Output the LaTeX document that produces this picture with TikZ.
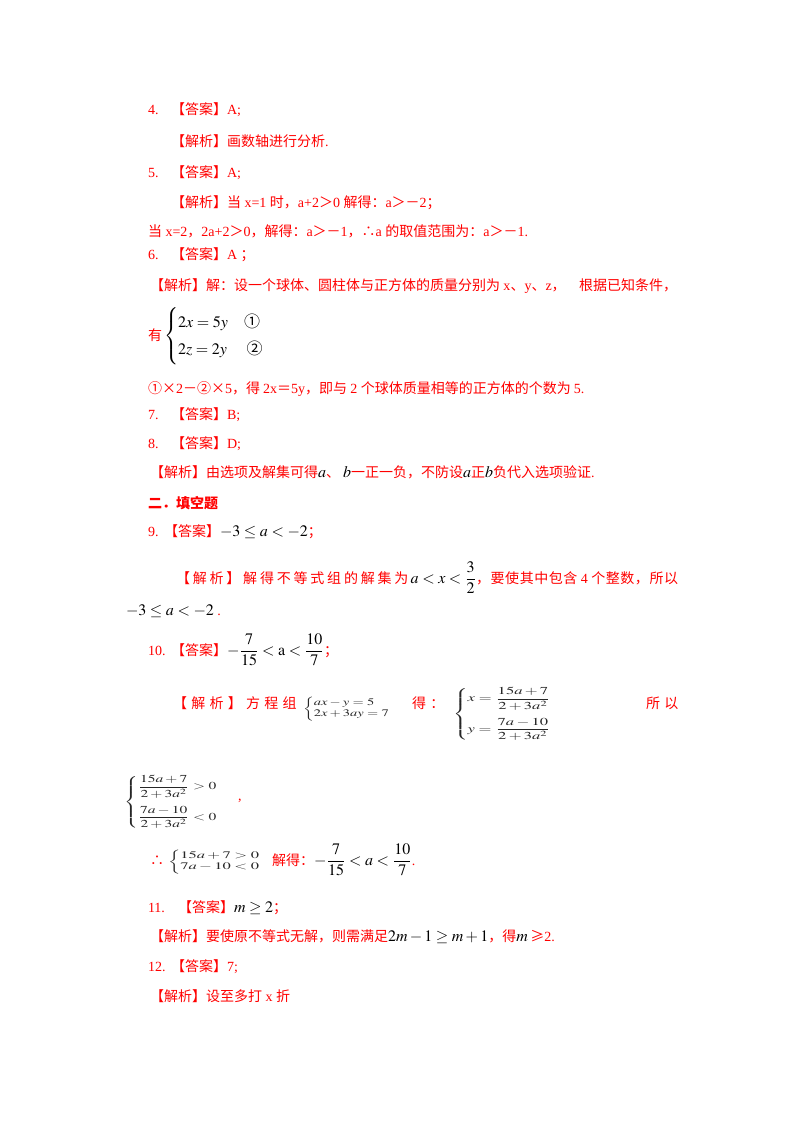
\documentclass[tikz,border=0pt]{standalone}
\usepackage{amsmath}
\usepackage{mathptmx}
\usepackage[no-math]{fontspec}
\usepackage{graphicx}
\setmainfont{Liberation Serif}
\newfontfamily\zh{Noto Sans CJK SC}
\newfontfamily\en{Liberation Serif}
\newcommand\fs{\fontsize{10.5}{12}\selectfont}
\newcommand\ms{\fontsize{12}{14}\selectfont}
\newcommand\M[1]{{\color{black}\ms$#1$}}
\newcommand\cir[1]{\mbox{\zh\fontsize{12}{14}\selectfont #1}}
\makeatletter
\newcommand\spaced[2]{{\def\sp@g{\hspace{#1}}\@tfor\sp@c:=#2\do{\sp@c\sp@g}\unskip}}
\makeatother
\begin{document}
\begin{tikzpicture}[x=0.75pt,y=-0.75pt,
  tx/.style={anchor=base west,inner sep=0pt,outer sep=0pt,text=red,font=\fs\zh},
  mt/.style={anchor=base west,inner sep=0pt,outer sep=0pt,text=black,font=\ms},
  sm/.style={anchor=west,inner sep=0pt,outer sep=0pt,text=black!85,font=\fontsize{7.5}{8.5}\selectfont},
  smb/.style={sm,font=\fontsize{8}{10}\selectfont}]
\useasboundingbox[fill=white] (0,0) rectangle (800,1132);
% 4
\node[tx] (n4) at (148,114) {\en 4.};
\node[tx] (a4) at (171,114) {【答案】{\en A;}};
\node[tx] (j4) at (171,146) {【解析】画数轴进行分析{\en .}};
% 5
\node[tx] (n5) at (148,177) {\en 5.};
\node[tx] (a5) at (171,177) {【答案】{\en A;}};
\node[tx] (j5) at (171,207) {【解析】当{\en\ x=1\ }时，{\en a+2}＞{\en 0\ }解得：{\en a}＞－{\en 2}；};
\node[tx] (j5b) at (148,236) {当{\en\ x=2}，{\en 2a+2}＞{\en 0}，解得：{\en a}＞－{\en 1}，∴{\en a\ }的取值范围为：{\en a}＞－{\en 1.}};
% 6
\node[tx] (n6) at (148,259) {\en 6.};
\node[tx] (a6) at (171,259) {【答案】{\en A\ }；};
\node[tx] (j6) at (150,290) {【解析】解：设一个球体、圆柱体与正方体的质量分别为{\en\ x}、{\en y}、{\en z}，\hspace{10pt}根据已知条件，};
\node[tx] (you) at (148,340) {有};
\node[mt,anchor=west] (sys6) at (164,336) {\renewcommand{\arraystretch}{1.43}$\left\{\begin{array}{@{}l@{}}2x=5y\quad\cir{①}\\ 2z=2y\quad\;\cir{②}\end{array}\right.$};
\node[tx] (j6b) at (148,393) {①×{\en 2}－②×{\en 5}，得\ {\en 2x}＝{\en 5y}，即与\ {\en 2\ }个球体质量相等的正方体的个数为\ {\en 5.}};
% 7, 8
\node[tx] (n7) at (148,419) {\en 7.};
\node[tx] (a7) at (171,419) {【答案】{\en B;}};
\node[tx] (n8) at (148,448) {\en 8.};
\node[tx] (a8) at (171,448) {【答案】{\en D;}};
\node[tx] (j8) at (150,477) {【解析】由选项及解集可得\M{a}、\ \M{b}一正一负，不防设\M{a}正\M{b}负代入选项验证{\en .}};
% heading
\node[tx,font=\fs\zh\bfseries] (h2) at (148,508) {二．填空题};
% 9
\node[tx] (n9) at (148,536) {\en 9.};
\node[tx] (a9) at (164,536) {【答案】\M{-3\le a<-2}；};
\node[tx] (j9) at (176,583) {\spaced{2.1pt}{【解析】解得不等式组的解集为}\,\M{a<x<\dfrac{3}{2}}\spaced{0.4pt}{，要使其中包含}{\en\ 4\ }\spaced{0.4pt}{个整数，所以}};
\node[tx] (j9b) at (126,615) {\M{-3\le a<-2}{\en\ .}};
% 10
\node[tx] (n10) at (148,655) {\en 10.};
\node[tx] (a10) at (171,655) {【答案】\M{-\dfrac{7}{15}<\mathrm{a}<\dfrac{10}{7}}；};
\node[tx] (j10) at (173,708) {\spaced{3.2pt}{【解析】方程组}};
\node[sm] (s1) at (303,709) {\scalebox{1.45}[1]{$\left\{\begin{array}{@{}l@{}}ax-y=5\\2x+3ay=7\end{array}\right.$}};
\node[tx] (de) at (412,708) {\spaced{3.2pt}{得：}};
\node[smb] (s2) at (453,714) {\scalebox{1.55}[1]{$\left\{\begin{array}{@{}l@{}}x=\dfrac{15a+7}{2+3a^2}\\[9pt] y=\dfrac{7a-10}{2+3a^2}\end{array}\right.$}};
\node[tx] (suoyi) at (646,708) {\spaced{3.2pt}{所以}};
\node[smb] (s3) at (124,802) {\scalebox{1.45}[1]{$\left\{\begin{array}{@{}l@{}}\dfrac{15a+7}{2+3a^2}>0\\[9pt]\dfrac{7a-10}{2+3a^2}<0\end{array}\right.$}};
\node[tx] (cm) at (238,800) {\en ,};
\node[tx] (ther) at (150,865) {∴};
\node[sm] (s4) at (168,862) {\scalebox{1.65}[1]{$\left\{\begin{array}{@{}l@{}}15a+7>0\\7a-10<0\end{array}\right.$}};
\node[tx] (j10c) at (272,865) {解得：\M{-\dfrac{7}{15}<a<\dfrac{10}{7}}{\en .}};
% 11
\node[tx] (n11) at (148,912) {\en 11.};
\node[tx] (a11) at (178,912) {【答案】\M{m\ge 2}；};
\node[tx] (j11) at (150,941) {【解析】要使原不等式无解，则需满足\M{2m-1\ge m+1}，得\M{m}\,≥{\en 2.}};
% 12
\node[tx] (n12) at (148,971) {\en 12.};
\node[tx] (a12) at (171,971) {【答案】{\en 7;}};
\node[tx] (j12) at (150,1001) {【解析】设至多打{\en\ x\ }折};
\end{tikzpicture}
\end{document}
